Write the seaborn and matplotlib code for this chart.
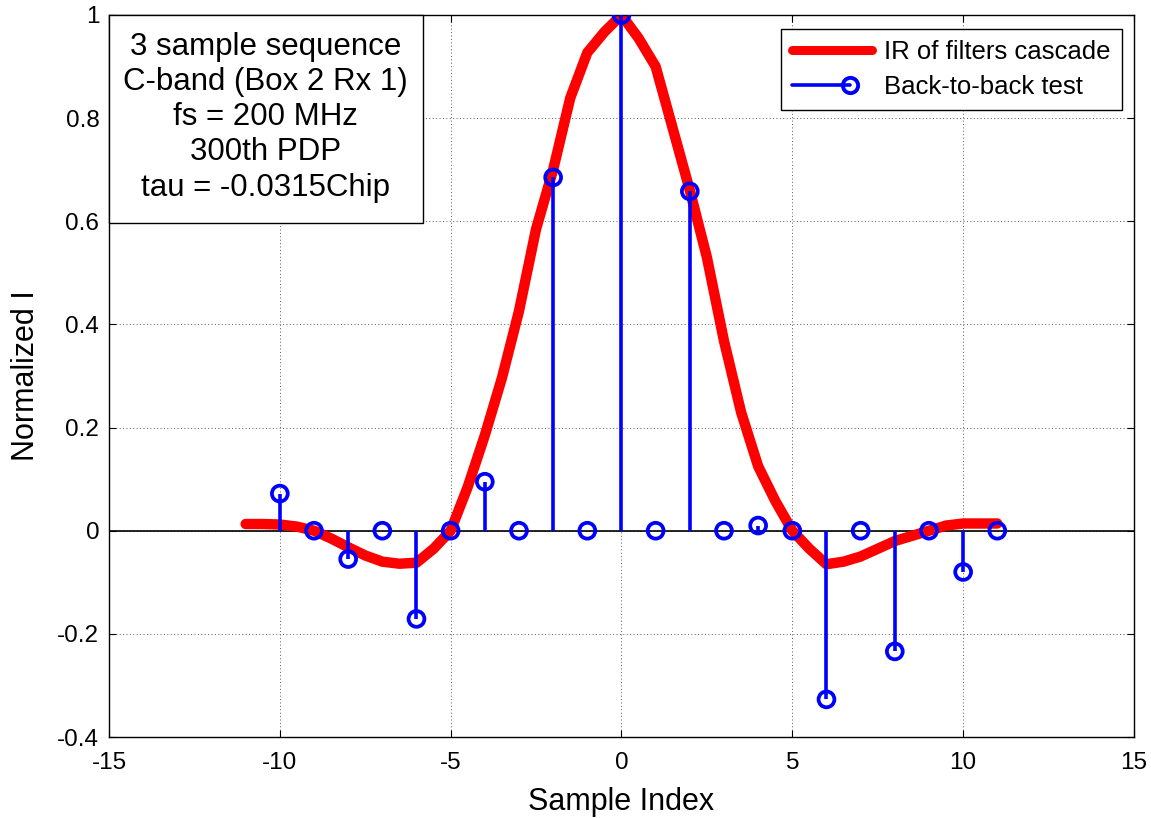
import numpy as np
import matplotlib
matplotlib.use("Agg")
import matplotlib.pyplot as plt
import seaborn as sns
from matplotlib.lines import Line2D
from matplotlib.patches import Rectangle
from matplotlib.legend_handler import HandlerBase

# ---------------- data ----------------
curve_x = [-11, -10.5, -10, -9.5, -9, -8.5, -8, -7.5, -7, -6.5, -6, -5.5, -5,
           -4.5, -4, -3.5, -3, -2.5, -2, -1.5, -1, -0.5, 0, 0.5, 1, 1.5, 2,
           2.5, 3, 3.5, 4, 4.5, 5, 5.5, 6, 6.5, 7, 7.5, 8, 8.5, 9, 9.5, 10,
           10.5, 11]
curve_y = [0.013, 0.013, 0.012, 0.008, 0.0, -0.015, -0.032, -0.048, -0.060,
           -0.064, -0.062, -0.035, 0.0, 0.085, 0.185, 0.296, 0.426, 0.585,
           0.700, 0.839, 0.927, 0.967, 1.0, 0.955, 0.900, 0.780, 0.660,
           0.530, 0.368, 0.230, 0.125, 0.058, 0.0, -0.035, -0.065, -0.060,
           -0.050, -0.035, -0.020, -0.010, 0.0, 0.010, 0.014, 0.014, 0.014]

stem_x = [-10, -9, -8, -7, -6, -5, -4, -3, -2, -1, 0, 1, 2, 3, 4, 5, 6, 7,
          8, 9, 10, 11]
stem_y = [0.072, 0.0, -0.055, 0.0, -0.171, 0.0, 0.095, 0.0, 0.685, 0.0, 1.0,
          0.0, 0.658, 0.0, 0.010, 0.0, -0.327, 0.0, -0.234, 0.0, -0.080, 0.0]

x_ticks = [-15, -10, -5, 0, 5, 10, 15]
y_ticks = [-0.4, -0.2, 0, 0.2, 0.4, 0.6, 0.8, 1]
y_tick_labels = ["-0.4", "-0.2", "0", "0.2", "0.4", "0.6", "0.8", "1"]
x_tick_labels = ["-15", "-10", "-5", "0", "5", "10", "15"]

legend_labels = ["IR of filters cascade", "Back-to-back test"]
info_lines = ["3 sample sequence", "C-band (Box 2 Rx 1)", "fs = 200 MHz",
              "300th PDP", "tau = -0.0315Chip"]

# ---------------- style ----------------
sns.set_style("ticks")
plt.rcParams["font.family"] = ["Liberation Sans", "DejaVu Sans"]
plt.rcParams["text.color"] = "black"
plt.rcParams["axes.labelcolor"] = "black"
plt.rcParams["xtick.color"] = "black"
plt.rcParams["ytick.color"] = "black"

fig = plt.figure(figsize=(11.51, 8.18), dpi=100)
ax = fig.add_axes([0.0947, 0.099, 0.8905, 0.8827])

RED = (1.0, 0.0, 0.0)
BLUE = (0.0, 0.0, 1.0)

ax.axhline(0, color="black", lw=1.2, zorder=1.5)

sns.lineplot(x=curve_x, y=curve_y, color=RED, lw=7.5, ax=ax, sort=False,
             zorder=2, estimator=None)

ax.vlines(stem_x, 0, stem_y, color=BLUE, lw=2.6, zorder=3)
sns.scatterplot(x=stem_x, y=stem_y, marker="o", s=130, facecolor="none",
                edgecolor=BLUE, linewidth=2.7, ax=ax, zorder=4)

ax.set_xlim(-15, 15)
ax.set_ylim(-0.4, 1)
ax.set_xticks(x_ticks)
ax.set_xticklabels(x_tick_labels)
ax.set_yticks(y_ticks)
ax.set_yticklabels(y_tick_labels)
ax.tick_params(axis="both", direction="in", length=5, width=0.8,
               top=True, right=True, labelsize=17.5, colors="black")
ax.tick_params(axis="x", pad=11)
ax.tick_params(axis="y", pad=7)
for s in ax.spines.values():
    s.set_color("black")
    s.set_linewidth(1.0)
    s.set_visible(True)

ax.grid(True, color="0.35", ls=(0, (1, 2.5)), lw=0.7)
ax.set_axisbelow(True)

ax.set_xlabel("Sample Index", fontsize=22, labelpad=9, color="black")
ax.set_ylabel("Normalized I", fontsize=22, labelpad=12, color="black")

# text box
ax.add_patch(Rectangle((0.0, 0.712), 0.306, 0.288, transform=ax.transAxes,
                       facecolor="white", edgecolor="black", lw=1.0,
                       zorder=6, clip_on=False))
line_y_px = [47, 82, 117, 152, 188]
for txt, ypx in zip(info_lines, line_y_px):
    ax.text(0.1527, (737 - ypx) / 722, txt, transform=ax.transAxes,
            ha="center", va="center", fontsize=22.5, zorder=7, color="black")


# legend
class StemHandler(HandlerBase):
    def create_artists(self, legend, orig_handle, xdescent, ydescent,
                       width, height, fontsize, trans):
        y = height / 2 - ydescent
        x0 = -xdescent
        xm = -xdescent + 0.72 * width
        ln = Line2D([x0, xm], [y, y], color=BLUE, lw=2.6)
        mk = Line2D([xm], [y], marker="o", mfc="none", mec=BLUE, ms=11,
                    mew=2.8, ls="none")
        ln.set_transform(trans)
        mk.set_transform(trans)
        return [ln, mk]


h_red = Line2D([], [], color=RED, lw=6.5)
h_stem = Line2D([], [], color=BLUE)
leg = ax.legend([h_red, h_stem], legend_labels, loc="upper right",
                bbox_to_anchor=(0.988, 0.981), borderaxespad=0,
                fontsize=18.5, handlelength=3.1, handletextpad=0.45,
                labelspacing=0.4, borderpad=0.45, fancybox=False,
                framealpha=1, edgecolor="black",
                handler_map={h_stem: StemHandler()})
leg.get_frame().set_linewidth(1.0)
for t in leg.get_texts():
    t.set_color("black")
leg.set_zorder(8)

fig.savefig("out.png", dpi=100)
